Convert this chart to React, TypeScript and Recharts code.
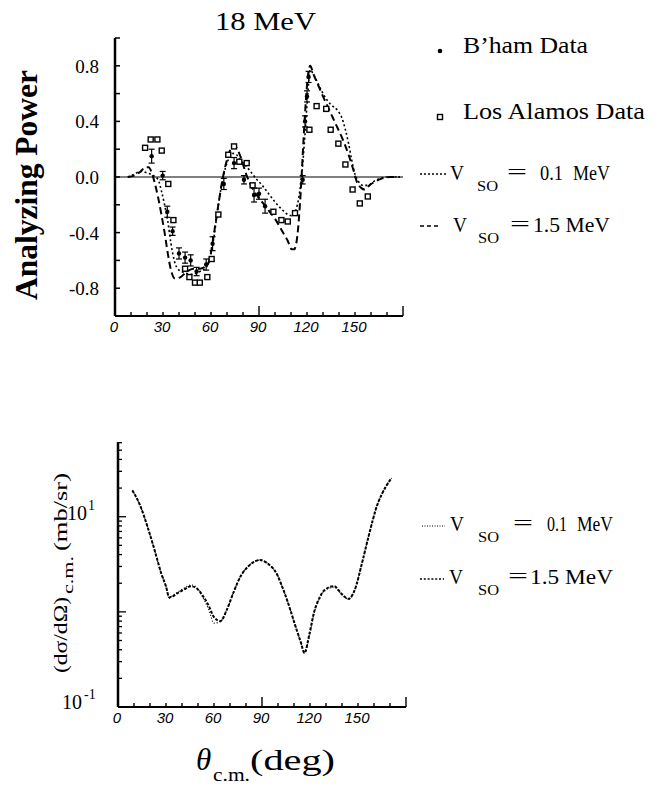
import React from 'react';
import { ComposedChart, Line, Scatter, XAxis, YAxis, ReferenceLine, ErrorBar } from 'recharts';

const serif = "'Liberation Serif', 'DejaVu Serif', serif";
const sans = "'Liberation Sans', Arial, sans-serif";

// ---- axes ----
const angleTicks = [0, 10, 20, 30, 40, 50, 60, 70, 80, 90, 100, 110, 120, 130, 140, 150, 160, 170, 180];
const angleLabels = [0, 30, 60, 90, 120, 150];
const angleLongTicks = [90, 180];
const apTicks = [-0.8, -0.6, -0.4, -0.2, 0, 0.2, 0.4, 0.6, 0.8, 1.0];
const apLabelValues = [0.8, 0.4, 0, -0.4, -0.8];
const apLabelText = ['0.8', '0.4', '0.0', '-0.4', '-0.8'];
const csTicks = [0.1, 0.2, 0.3, 0.4, 0.5, 0.6, 0.7, 0.8, 0.9, 1, 2, 3, 4, 5, 6, 7, 8, 9, 10, 20, 30, 40, 50, 60];
const csMajorTicks = [0.1, 1, 10];

// ---- analyzing power, V_so = 0.1 MeV ----
const apAngles01 = [8, 12, 16, 20, 24, 27, 29, 31, 33, 35, 37, 40, 44, 48, 53, 57, 60, 62, 64, 66, 68, 70, 72, 74, 76, 78, 81, 84, 88, 92, 96, 100, 104, 108, 111, 113, 115, 117, 119, 120.5, 122, 124, 127, 131, 135, 139, 142, 144, 146, 148, 150, 152, 155, 158, 162, 166, 170, 175, 178];
const ap01 = [0, 0.02, 0.04, 0.03, 0.01, -0.02, -0.1, -0.2, -0.32, -0.48, -0.6, -0.67, -0.69, -0.7, -0.68, -0.65, -0.55, -0.42, -0.25, -0.1, 0.02, 0.1, 0.15, 0.17, 0.16, 0.13, 0.09, 0.05, -0.01, -0.06, -0.12, -0.18, -0.23, -0.27, -0.28, -0.24, -0.14, 0.05, 0.35, 0.6, 0.77, 0.74, 0.67, 0.58, 0.52, 0.48, 0.42, 0.34, 0.24, 0.12, 0.02, -0.03, -0.06, -0.06, -0.03, -0.01, 0, 0, 0];

// ---- analyzing power, V_so = 1.5 MeV ----
const apAngles15 = [8, 12, 16, 19, 21, 23, 25, 27, 29, 31, 33, 35, 37.5, 41, 45, 49, 53, 57, 59, 61, 63, 65, 67, 69, 71, 73, 74.5, 76, 78, 80, 82, 85, 88, 92, 96, 100, 104, 108, 110.5, 112, 114, 116, 117.5, 119, 120.5, 122, 124, 127, 130, 134, 138, 142, 146, 149, 151, 154, 156, 159, 163, 167, 172, 178];
const ap15 = [0, 0.01, 0.04, 0.07, 0.07, 0.03, -0.05, -0.15, -0.27, -0.4, -0.55, -0.67, -0.73, -0.72, -0.68, -0.66, -0.66, -0.64, -0.6, -0.47, -0.32, -0.17, -0.03, 0.08, 0.16, 0.22, 0.23, 0.21, 0.16, 0.09, 0.02, -0.06, -0.12, -0.18, -0.24, -0.3, -0.38, -0.46, -0.52, -0.52, -0.42, -0.12, 0.2, 0.5, 0.72, 0.8, 0.74, 0.66, 0.58, 0.48, 0.38, 0.28, 0.16, 0.05, -0.03, -0.08, -0.09, -0.06, -0.03, -0.01, 0, 0];

// ---- Los Alamos data ----
const laAngles = [18.8, 22.3, 26.5, 29.2, 33.3, 36.5, 43.8, 46.5, 50, 53, 57.7, 60.4, 64.6, 70.8, 74.4, 77.7, 82.3, 86, 99, 104, 108, 112.5, 121.5, 126, 132, 134.8, 139.6, 144, 148.5, 153, 158];
const laValues = [0.21, 0.27, 0.27, 0.19, -0.05, -0.31, -0.66, -0.72, -0.76, -0.76, -0.72, -0.59, -0.27, 0.16, 0.22, 0.11, 0.1, -0.06, -0.25, -0.31, -0.32, -0.26, 0.34, 0.51, 0.49, 0.34, 0.24, 0.09, -0.09, -0.19, -0.14];

// ---- Birmingham data ----
const bhAngles = [22.9, 29.8, 32.7, 36, 40, 43.8, 47.3, 51, 57, 61, 68, 74.4, 80.6, 86.9, 90, 93.8, 117.3, 118.8, 120, 121];
const bhValues = [0.15, 0.01, -0.25, -0.39, -0.55, -0.58, -0.6, -0.68, -0.63, -0.48, -0.05, 0.1, -0.02, -0.13, -0.12, -0.21, -0.02, 0.4, 0.58, 0.72];
const bhErrors = [0.05, 0.03, 0.04, 0.03, 0.04, 0.04, 0.04, 0.03, 0.04, 0.05, 0.04, 0.04, 0.03, 0.05, 0.04, 0.05, 0.03, 0.04, 0.04, 0.04];

// ---- cross section (mb/sr) ----
const csAngles = [9, 13.6, 18.7, 22.8, 27, 30, 32, 34, 38, 42.4, 45.5, 49.6, 52.7, 56.8, 60, 64, 68, 72, 76, 82.5, 88.7, 93.8, 99, 103, 107, 111, 114.4, 116.5, 119.6, 122.6, 125.7, 128.8, 135, 140, 144, 148, 152.5, 156.6, 161.7, 166.9, 171];
const cs01 = [18.9, 13.4, 7.6, 4.5, 2.55, 1.85, 1.39, 1.47, 1.64, 1.82, 1.92, 1.77, 1.45, 1.05, 0.76, 0.79, 1.05, 1.57, 2.26, 3.13, 3.5, 3.2, 2.55, 1.77, 1.14, 0.7, 0.47, 0.37, 0.55, 0.97, 1.34, 1.64, 1.82, 1.51, 1.36, 1.71, 3.26, 6.2, 12.8, 20, 25.5];
const cs15 = [18.9, 13.4, 7.6, 4.5, 2.55, 1.85, 1.42, 1.45, 1.6, 1.76, 1.86, 1.74, 1.5, 1.15, 0.88, 0.8, 1.05, 1.57, 2.26, 3.13, 3.5, 3.2, 2.55, 1.77, 1.14, 0.7, 0.47, 0.37, 0.58, 1.0, 1.38, 1.68, 1.86, 1.53, 1.37, 1.71, 3.26, 6.2, 12.8, 20, 25.5];

const toXY = (xs: number[], ys: number[]) => xs.map((x, i) => ({ x, y: ys[i] }));
const ap01Data = toXY(apAngles01, ap01);
const ap15Data = toXY(apAngles15, ap15);
const laData = toXY(laAngles, laValues);
const bhData = bhAngles.map((x, i) => ({ x, y: bhValues[i], e: bhErrors[i] }));
const cs01Data = toXY(csAngles, cs01);
const cs15Data = toXY(csAngles, cs15);

const near = (a: number, b: number) => Math.abs(a - b) < 1e-6;

function XTick(props: any) {
  const { x, y, payload } = props;
  const v = payload.value;
  const long = angleLongTicks.includes(v);
  const lbl = angleLabels.includes(v);
  return (
    <g>
      <line x1={x} x2={x} y1={y} y2={y - (long ? 10 : 4)} stroke="#000" strokeWidth={1.4} />
      {lbl && (
        <text x={x - 1} y={y + 16} textAnchor="middle" fontFamily={sans} fontStyle="italic" fontSize={15} fill="#000">
          {v}
        </text>
      )}
    </g>
  );
}

function ApTick(props: any) {
  const { x, y, payload } = props;
  const v = payload.value;
  const idx = apLabelValues.findIndex((l) => near(l, v));
  return (
    <g>
      <line x1={x} x2={x + 5} y1={y} y2={y} stroke="#000" strokeWidth={1.5} />
      {idx >= 0 && (
        <text x={x - 16} y={y + 7} textAnchor="end" fontFamily={serif} fontSize={19} fill="#000">
          {apLabelText[idx]}
        </text>
      )}
    </g>
  );
}

function CsTick(props: any) {
  const { x, y, payload } = props;
  const v = payload.value;
  const major = csMajorTicks.some((m) => near(m, v));
  const isTen = near(v, 10);
  const isTenth = near(v, 0.1);
  return (
    <g>
      <line x1={x} x2={x + (major ? 8 : 4)} y1={y} y2={y} stroke="#000" strokeWidth={1.3} />
      {isTen && (
        <text fontFamily={serif} fill="#000">
          <tspan x={x - 51} y={y + 3} fontSize={20}>10</tspan>
          <tspan x={x - 30} y={y - 7} fontSize={14}>1</tspan>
        </text>
      )}
      {isTenth && (
        <text fontFamily={serif} fill="#000">
          <tspan x={x - 56} y={y + 2} fontSize={20}>10</tspan>
          <tspan x={x - 34} y={y - 8} fontSize={14}>-1</tspan>
        </text>
      )}
    </g>
  );
}

const DotShape = (p: any) => <circle cx={p.cx} cy={p.cy} r={2.2} fill="#000" />;
const SquareShape = (p: any) => (
  <rect x={p.cx - 2.5} y={p.cy - 2.5} width={5} height={5} fill="#fff" stroke="#000" strokeWidth={1.4} />
);

function VsoLabel({ y, vx, sox, eqx, rest }: { y: number; vx: number; sox: number; eqx: number; rest: { x: number; t: string; w: number }[] }) {
  return (
    <g fontFamily={serif} fill="#000">
      <text x={vx} y={y} fontSize={21} textLength={14} lengthAdjust="spacingAndGlyphs">V</text>
      <text x={sox} y={y + 11} fontSize={15} textLength={21} lengthAdjust="spacingAndGlyphs">SO</text>
      <text x={eqx} y={y - 1} fontSize={22} textLength={20} lengthAdjust="spacingAndGlyphs">=</text>
      {rest.map((r, i) => (
        <text key={i} x={r.x} y={y} fontSize={20} textLength={r.w} lengthAdjust="spacingAndGlyphs">{r.t}</text>
      ))}
    </g>
  );
}

export default function App() {
  return (
    <div style={{ position: 'absolute', left: 0, top: 0, width: 659, height: 786, background: '#fff' }}>
      <div style={{ position: 'absolute', left: 0, top: 0 }}>
        <ComposedChart width={659} height={345} margin={{ top: 38, right: 256, bottom: 0, left: 55 }}>
          <XAxis type="number" dataKey="x" domain={[0, 180]} ticks={angleTicks} interval={0} tick={<XTick />} tickLine={false} tickSize={0} tickMargin={0} axisLine={{ stroke: '#000', strokeWidth: 2 }} height={29} allowDataOverflow />
          <YAxis type="number" dataKey="y" domain={[-1, 1]} ticks={apTicks} interval={0} tick={<ApTick />} tickLine={false} tickSize={0} tickMargin={0} axisLine={{ stroke: '#000', strokeWidth: 2.5 }} width={60} allowDataOverflow />
          <ReferenceLine y={0} stroke="#000" strokeWidth={1.2} />
          <Line data={ap01Data} dataKey="y" type="monotone" stroke="#000" strokeWidth={1.6} strokeDasharray="2 2.5" dot={false} isAnimationActive={false} />
          <Line data={ap15Data} dataKey="y" type="monotone" stroke="#000" strokeWidth={2} strokeDasharray="7 4" dot={false} isAnimationActive={false} />
          <Scatter data={laData} dataKey="y" shape={SquareShape} isAnimationActive={false} />
          <Scatter data={bhData} dataKey="y" shape={DotShape} isAnimationActive={false}>
            <ErrorBar dataKey="e" direction="y" width={3} stroke="#000" strokeWidth={1.2} isAnimationActive={false} />
          </Scatter>
        </ComposedChart>
      </div>
      <div style={{ position: 'absolute', left: 0, top: 400 }}>
        <ComposedChart width={659} height={337} margin={{ top: 42, right: 253, bottom: 0, left: 58 }}>
          <XAxis type="number" dataKey="x" domain={[0, 180]} ticks={angleTicks} interval={0} tick={<XTick />} tickLine={false} tickSize={0} tickMargin={0} axisLine={{ stroke: '#000', strokeWidth: 2 }} height={30} allowDataOverflow />
          <YAxis type="number" dataKey="y" scale="log" domain={[0.1, 61]} ticks={csTicks} interval={0} tick={<CsTick />} tickLine={false} tickSize={0} tickMargin={0} axisLine={{ stroke: '#000', strokeWidth: 2.5 }} width={60} allowDataOverflow />
          <Line data={cs01Data} dataKey="y" type="monotone" stroke="#000" strokeWidth={1.2} strokeDasharray="1 2" dot={false} isAnimationActive={false} />
          <Line data={cs15Data} dataKey="y" type="monotone" stroke="#000" strokeWidth={2} strokeDasharray="3 1.5" dot={false} isAnimationActive={false} />
        </ComposedChart>
      </div>
      <svg width={659} height={786} style={{ position: 'absolute', left: 0, top: 0, pointerEvents: 'none' }}>
        {/* title */}
        <text x={215} y={30} fontFamily={serif} fontSize={26} textLength={101} lengthAdjust="spacingAndGlyphs" fill="#000">18 MeV</text>
        {/* top y label */}
        <text transform="rotate(-90)" x={-185} y={37} textAnchor="middle" fontFamily={serif} fontWeight="bold" fontSize={31} textLength={230} lengthAdjust="spacingAndGlyphs" fill="#000">Analyzing Power</text>
        {/* top legend */}
        <circle cx={440} cy={51} r={2.3} fill="#000" />
        <text x={463} y={53} fontFamily={serif} fontSize={24} textLength={125} lengthAdjust="spacingAndGlyphs" fill="#000">B’ham Data</text>
        <rect x={437.5} y={114.5} width={5} height={5} fill="#fff" stroke="#000" strokeWidth={1.4} />
        <text x={463} y={119} fontFamily={serif} fontSize={24} textLength={182} lengthAdjust="spacingAndGlyphs" fill="#000">Los Alamos Data</text>
        <line x1={420} x2={447} y1={174} y2={174} stroke="#000" strokeWidth={1.4} strokeDasharray="2 2" />
        <VsoLabel y={180} vx={450} sox={477} eqx={507} rest={[{ x: 540, t: '0.1', w: 23 }, { x: 573, t: 'MeV', w: 37 }]} />
        <line x1={420} x2={438} y1={226} y2={226} stroke="#000" strokeWidth={1.6} strokeDasharray="4 3" />
        <VsoLabel y={232} vx={453} sox={478} eqx={510} rest={[{ x: 533, t: '1.5 MeV', w: 77 }]} />
        {/* bottom y label */}
        <text transform="rotate(-90)" x={-673} y={67} fontFamily={serif} fontSize={19} textLength={76} lengthAdjust="spacingAndGlyphs" fill="#000">(dσ/dΩ)</text>
        <text transform="rotate(-90)" x={-594} y={73} fontFamily={serif} fontSize={15} textLength={38} lengthAdjust="spacingAndGlyphs" fill="#000">c.m.</text>
        <text transform="rotate(-90)" x={-551} y={67} fontFamily={serif} fontSize={19} textLength={78} lengthAdjust="spacingAndGlyphs" fill="#000">(mb/sr)</text>
        {/* bottom legend */}
        <line x1={422} x2={445} y1={526} y2={526} stroke="#000" strokeWidth={1} strokeDasharray="1 1.5" />
        <VsoLabel y={531} vx={450} sox={478} eqx={513} rest={[{ x: 547, t: '0.1', w: 20 }, { x: 577, t: 'MeV', w: 36 }]} />
        <line x1={420} x2={444} y1={579} y2={579} stroke="#000" strokeWidth={1.3} strokeDasharray="2 1.8" />
        <VsoLabel y={584} vx={449} sox={478} eqx={508} rest={[{ x: 530, t: '1.5 MeV', w: 83 }]} />
        {/* bottom x label */}
        <text x={196} y={770} fontFamily={serif} fontStyle="italic" fontSize={31} fill="#000">θ</text>
        <text x={213} y={781} fontFamily={serif} fontSize={18} textLength={37} lengthAdjust="spacingAndGlyphs" fill="#000">c.m.</text>
        <text x={250} y={770} fontFamily={serif} fontSize={29} textLength={85} lengthAdjust="spacingAndGlyphs" fill="#000">(deg)</text>
      </svg>
    </div>
  );
}
